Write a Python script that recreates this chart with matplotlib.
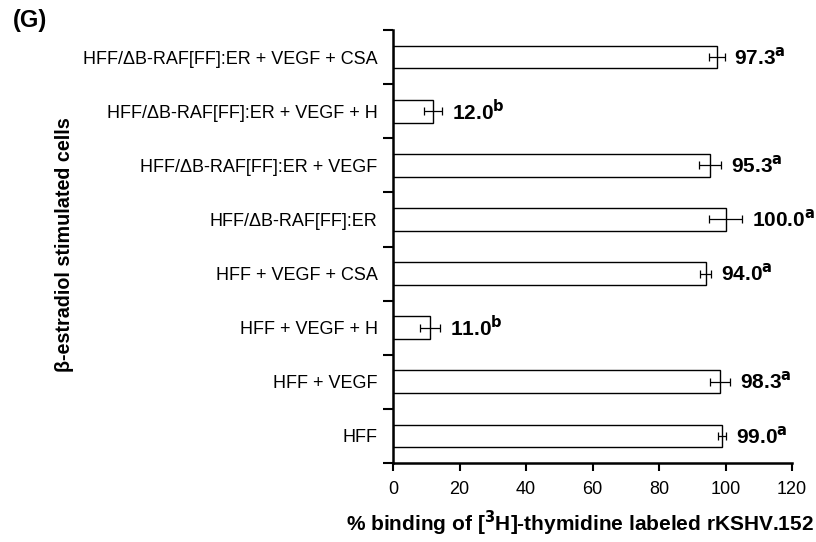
import matplotlib
matplotlib.use("Agg")
import matplotlib.pyplot as plt
import numpy as np

plt.rcParams['font.family'] = ['Liberation Sans', 'DejaVu Sans']

categories = ["HFF", "HFF + VEGF", "HFF + VEGF + H", "HFF + VEGF + CSA",
              "HFF/\u0394B-RAF[FF]:ER", "HFF/\u0394B-RAF[FF]:ER + VEGF",
              "HFF/\u0394B-RAF[FF]:ER + VEGF + H", "HFF/\u0394B-RAF[FF]:ER + VEGF + CSA"]
values = [99.0, 98.3, 11.0, 94.0, 100.0, 95.3, 12.0, 97.3]
errors = [1.3, 3.0, 3.0, 1.7, 4.9, 3.4, 2.7, 2.4]
letters = ["a", "a", "b", "a", "a", "a", "b", "a"]
xticks = [0, 20, 40, 60, 80, 100, 120]

fig = plt.figure(figsize=(8.16, 5.42), dpi=100)
ax = fig.add_axes([393/816, (542-463)/542, (792-393)/816, (463-30)/542])

y = np.arange(len(categories))
ax.barh(y, values, height=0.42, color='white', edgecolor='black', linewidth=1.0,
        xerr=errors, error_kw=dict(ecolor='black', elinewidth=0.9, capsize=3, capthick=0.9))

for yi, v, e, l in zip(y, values, errors, letters):
    ax.text(v + e + 3.0, yi, f"{v:.1f}$^{{\\mathbf{{{l}}}}}$", va='center', ha='left',
            fontsize=15, fontweight='bold', clip_on=False)

ax.set_xlim(0, 120)
ax.set_ylim(-0.5, len(categories) - 0.5)
ax.set_xticks(xticks)
ax.set_xticklabels([str(t) for t in xticks], fontsize=13)
ax.set_yticks(y)
ax.set_yticklabels(categories, fontsize=13)
ax.set_yticks(np.arange(-0.5, len(categories), 1.0), minor=True)
ax.tick_params(axis='y', which='major', length=0, pad=11)
ax.tick_params(axis='y', which='minor', length=7, width=1.5, direction='out')
ax.tick_params(axis='x', which='major', length=6, width=1.5, direction='out', pad=7)

for s in ['top', 'right']:
    ax.spines[s].set_visible(False)
for s in ['left', 'bottom']:
    ax.spines[s].set_linewidth(1.8)

fig.text(580/816, 1 - 523/542, "% binding of [$^{\\mathbf{3}}$H]-thymidine labeled rKSHV.152",
         fontsize=15, fontweight='bold', va='center', ha='center')
fig.text(64/816, 1 - 245/542, "\u03b2-estradiol stimulated cells", rotation=90,
         va='center', ha='center', fontsize=14.2, fontweight='bold')
fig.text(13/816, 1 - 21/542, "(G)", fontsize=17, fontweight='bold', va='center', ha='left')

fig.savefig("out.png", dpi=100)
